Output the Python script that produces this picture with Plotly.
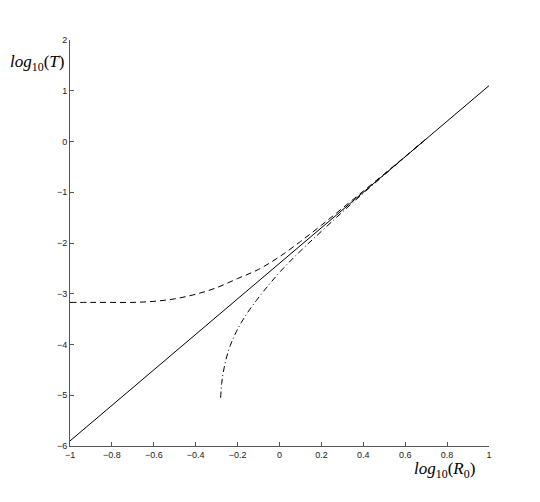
import plotly.graph_objects as go

# Solid line
solid_x = [-1.0, 1.0]
solid_y = [-5.9, 1.1]

# Dashed curve
dash_x = [-1.0, -0.9, -0.8, -0.7, -0.6, -0.5, -0.4, -0.3, -0.2, -0.1, 0.0, 0.1, 0.2, 0.3, 0.4, 0.5, 0.6, 0.7]
dash_y = [-3.17, -3.17, -3.17, -3.17, -3.15, -3.10, -3.01, -2.88, -2.70, -2.52, -2.27, -1.97, -1.65, -1.315, -0.978, -0.638, -0.295, 0.05]

# Dash-dot curve
dd_x = [-0.281, -0.276, -0.268, -0.255, -0.235, -0.205, -0.165, -0.110, -0.050, 0.000, 0.060, 0.130, 0.200, 0.300, 0.400, 0.500, 0.600, 0.700]
dd_y = [-5.05, -4.77, -4.54, -4.29, -4.02, -3.74, -3.45, -3.13, -2.82, -2.58, -2.32, -2.04, -1.77, -1.39, -1.02, -0.66, -0.30, 0.05]

x_ticks = [-1, -0.8, -0.6, -0.4, -0.2, 0, 0.2, 0.4, 0.6, 0.8, 1]
x_ticklabels = ["\u22121", "\u22120.8", "\u22120.6", "\u22120.4", "\u22120.2", "0", "0.2", "0.4", "0.6", "0.8", "1"]
y_ticks = [-6, -5, -4, -3, -2, -1, 0, 1, 2]
y_ticklabels = ["\u22126", "\u22125", "\u22124", "\u22123", "\u22122", "\u22121", "0", "1", "2"]

line_color = "#000000"
fig = go.Figure()
fig.add_trace(go.Scatter(x=solid_x, y=solid_y, mode="lines",
                         line=dict(color=line_color, width=1)))
fig.add_trace(go.Scatter(x=dash_x, y=dash_y, mode="lines", line_shape="spline",
                         line=dict(color=line_color, width=1, dash="6px,4px")))
fig.add_trace(go.Scatter(x=dd_x, y=dd_y, mode="lines", line_shape="spline",
                         line=dict(color=line_color, width=1, dash="6px,3px,1px,3px")))

axis_common = dict(showgrid=False, zeroline=False, showline=True, linecolor="#555555",
                   linewidth=1, ticks="inside", ticklen=4, tickcolor="#555555",
                   tickfont=dict(family="Liberation Sans, Arial, sans-serif", size=9, color="#222222"))

title_font = dict(family="Liberation Serif, Times New Roman, serif", size=17, color="#000000")

fig.update_layout(
    width=540, height=502,
    margin=dict(l=62, r=59, t=32, b=64),
    paper_bgcolor="white", plot_bgcolor="white",
    showlegend=False,
    xaxis=dict(range=[-1, 1], tickvals=x_ticks, ticktext=x_ticklabels, **axis_common),
    yaxis=dict(range=[-6, 2], tickvals=y_ticks, ticktext=y_ticklabels, **axis_common),
    annotations=[
        dict(text="<i>log</i><sub>10</sub>(<i>T</i>)", x=-0.078, y=0.944, xref="paper", yref="paper",
             xanchor="center", yanchor="middle", showarrow=False, font=title_font),
        dict(text="<i>log</i><sub>10</sub>(<i>R</i><sub>0</sub>)", x=0.893, y=-0.059, xref="paper", yref="paper",
             xanchor="center", yanchor="middle", showarrow=False, font=title_font),
    ],
)

fig.write_html("out.html")
